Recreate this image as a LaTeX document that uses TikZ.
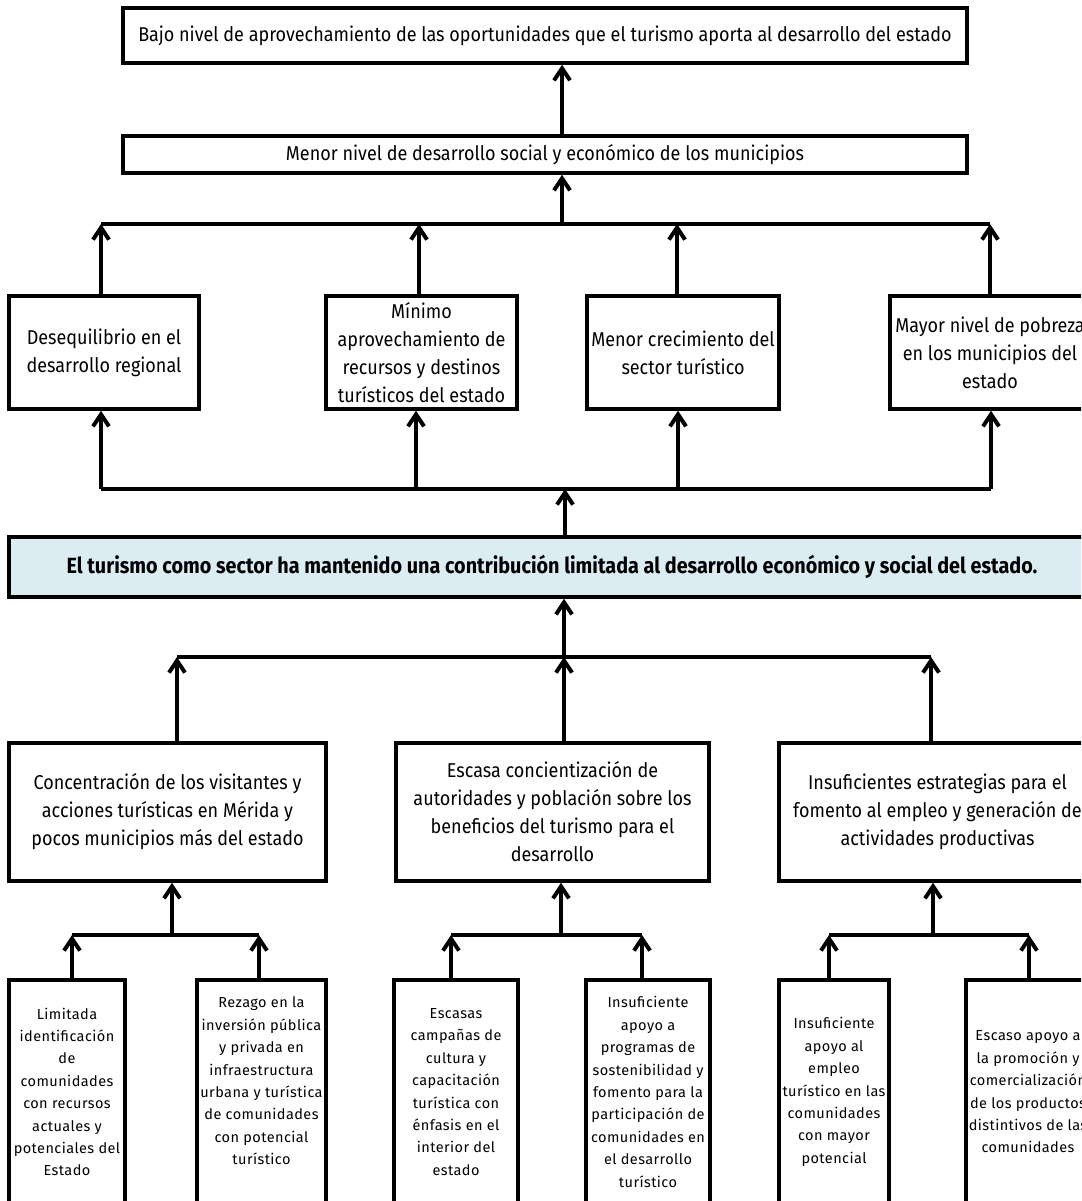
\documentclass[tikz,border=0pt]{standalone}
\usepackage{fontspec}
\setmainfont[FakeStretch=0.9]{Fira Sans}
\newfontfamily\fuenteabajo[LetterSpace=3]{Fira Sans}
\usetikzlibrary{arrows.meta}

\definecolor{azulclaro}{RGB}{219,237,243}

\tikzset{
  caja/.style={draw, line width=3.5pt, align=center, inner sep=0pt, fill=white},
  cajaefecto/.style={caja, font=\fontsize{20}{28}\selectfont},
  cajacentral/.style={caja, fill=azulclaro, font=\fontsize{22}{26}\selectfont\bfseries},
  cajacausa/.style={caja, font=\fuenteabajo\fontsize{14.5}{22.4}\selectfont},
  flecha/.style={line width=4pt, -{Straight Barb[length=12pt,width=16pt]}},
  barra/.style={line width=4.5pt},
}

\begin{document}
\begin{tikzpicture}[x=1pt,y=1pt,yscale=-1]
\useasboundingbox (0,0) rectangle (1081,1201);
\clip (0,0) rectangle (1081,1201);

% Efectos
\node [cajaefecto, minimum width=844pt, minimum height=55pt] (bajo) at (545,35.5) {Bajo nivel de aprovechamiento de las oportunidades que el turismo aporta al desarrollo del estado};
\node [cajaefecto, minimum width=844pt, minimum height=37pt] (menor) at (545,154.5) {Menor nivel de desarrollo social y económico de los municipios};

\node [cajaefecto, minimum width=190pt, minimum height=113pt] (desequilibrio) at (104,352.5) {Desequilibrio en el\\desarrollo regional};
\node [cajaefecto, minimum width=191pt, minimum height=113pt] (minimo) at (421.5,352.5) {Mínimo\\aprovechamiento de\\recursos y destinos\\turísticos del estado};
\node [cajaefecto, minimum width=192pt, minimum height=113pt] (crecimiento) at (683,352.5) {Menor crecimiento del\\sector turístico};
\node [cajaefecto, minimum width=200pt, minimum height=113pt] (pobreza) at (990,352.5) {Mayor nivel de pobreza\\en los municipios del\\estado};

% Problema central
\node [cajacentral, minimum width=1086pt, minimum height=60pt] (problema) at (552,567) {El turismo como sector ha mantenido una contribución limitada al desarrollo económico y social del estado.};

% Causas
\node [cajaefecto, minimum width=317pt, minimum height=138pt] (concentracion) at (167.5,812) {Concentración de los visitantes y\\acciones turísticas en Mérida y\\pocos municipios más del estado};
\node [cajaefecto, minimum width=313pt, minimum height=138pt] (concientizacion) at (552.5,812) {Escasa concientización de\\autoridades y población sobre los\\beneficios del turismo para el\\desarrollo};
\node [cajaefecto, minimum width=317pt, minimum height=138pt] (estrategias) at (937.5,812) {Insuficientes estrategias para el\\fomento al empleo y generación de\\actividades productivas};

\node [cajacausa, minimum width=116pt, minimum height=224pt] (identificacion) at (67,1092) {Limitada\\identificación\\de\\comunidades\\con recursos\\actuales y\\potenciales del\\Estado};
\node [cajacausa, minimum width=129pt, minimum height=224pt] (rezago) at (261.5,1092) {Rezago en la\\inversión pública\\y privada en\\infraestructura\\urbana y turística\\de comunidades\\con potencial\\turístico\\ \mbox{}};
\node [cajacausa, minimum width=124pt, minimum height=224pt] (campanas) at (456,1092) {Escasas\\campañas de\\cultura y\\capacitación\\turística con\\énfasis en el\\interior del\\estado};
\node [cajacausa, minimum width=124pt, minimum height=224pt] (sostenibilidad) at (648,1092) {Insuficiente\\apoyo a\\programas de\\sostenibilidad y\\fomento para la\\participación de\\comunidades en\\el desarrollo\\turístico};
\node [cajacausa, minimum width=110pt, minimum height=224pt] (empleo) at (834,1092) {Insuficiente\\apoyo al\\empleo\\turístico en las\\comunidades\\con mayor\\potencial};
\node [cajacausa, minimum width=124pt, minimum height=224pt] (promocion) at (1028,1092) {Escaso apoyo a\\la promoción y\\comercialización\\de los productos\\distintivos de las\\comunidades};

% Barras
\coordinate (b1a) at (101,224); \coordinate (b1b) at (419,224);
\coordinate (b1c) at (677,224); \coordinate (b1d) at (990,224);
\coordinate (b1m) at (562,224);
\coordinate (b2a) at (101,489); \coordinate (b2b) at (416,489);
\coordinate (b2c) at (678,489); \coordinate (b2d) at (991,489);
\coordinate (b2m) at (565,489);
\coordinate (b3a) at (177,657); \coordinate (b3b) at (564,657);
\coordinate (b3c) at (931,657);
\coordinate (s1a) at (72,935); \coordinate (s1b) at (259,935); \coordinate (s1m) at (172,935);
\coordinate (s2a) at (451,935); \coordinate (s2b) at (642,935); \coordinate (s2m) at (561,935);
\coordinate (s3a) at (829,935); \coordinate (s3b) at (1029,935); \coordinate (s3m) at (933,935);

\draw [barra] (b1a) -- (b1d);
\draw [barra] (b2a) -- (b2d);
\draw [barra] (b3a) -- (b3c);
\draw [barra] (s1a) -- (s1b);
\draw [barra] (s2a) -- (s2b);
\draw [barra] (s3a) -- (s3b);

% Flechas
\draw [flecha] (menor.north -| b1m) -- (bajo.south -| b1m);
\draw [flecha] (b1m) -- (menor.south -| b1m);
\foreach \b/\n in {b1a/desequilibrio, b1b/minimo, b1c/crecimiento, b1d/pobreza}
  \draw [flecha] (\n.north -| \b) -- (\b);
\foreach \b/\n in {b2a/desequilibrio, b2b/minimo, b2c/crecimiento, b2d/pobreza}
  \draw [flecha] (\b) -- (\n.south -| \b);
\draw [flecha] (problema.north -| b2m) -- (b2m);
\draw [flecha] (b3b) -- (problema.south -| b3b);
\foreach \b/\n in {b3a/concentracion, b3b/concientizacion, b3c/estrategias}
  \draw [flecha] (\n.north -| \b) -- (\b);
\draw [flecha] (s1m) -- (concentracion.south -| s1m);
\draw [flecha] (s2m) -- (concientizacion.south -| s2m);
\draw [flecha] (s3m) -- (estrategias.south -| s3m);
\foreach \b/\n in {s1a/identificacion, s1b/rezago, s2a/campanas, s2b/sostenibilidad, s3a/empleo, s3b/promocion}
  \draw [flecha] (\n.north -| \b) -- (\b);
\end{tikzpicture}
\end{document}
